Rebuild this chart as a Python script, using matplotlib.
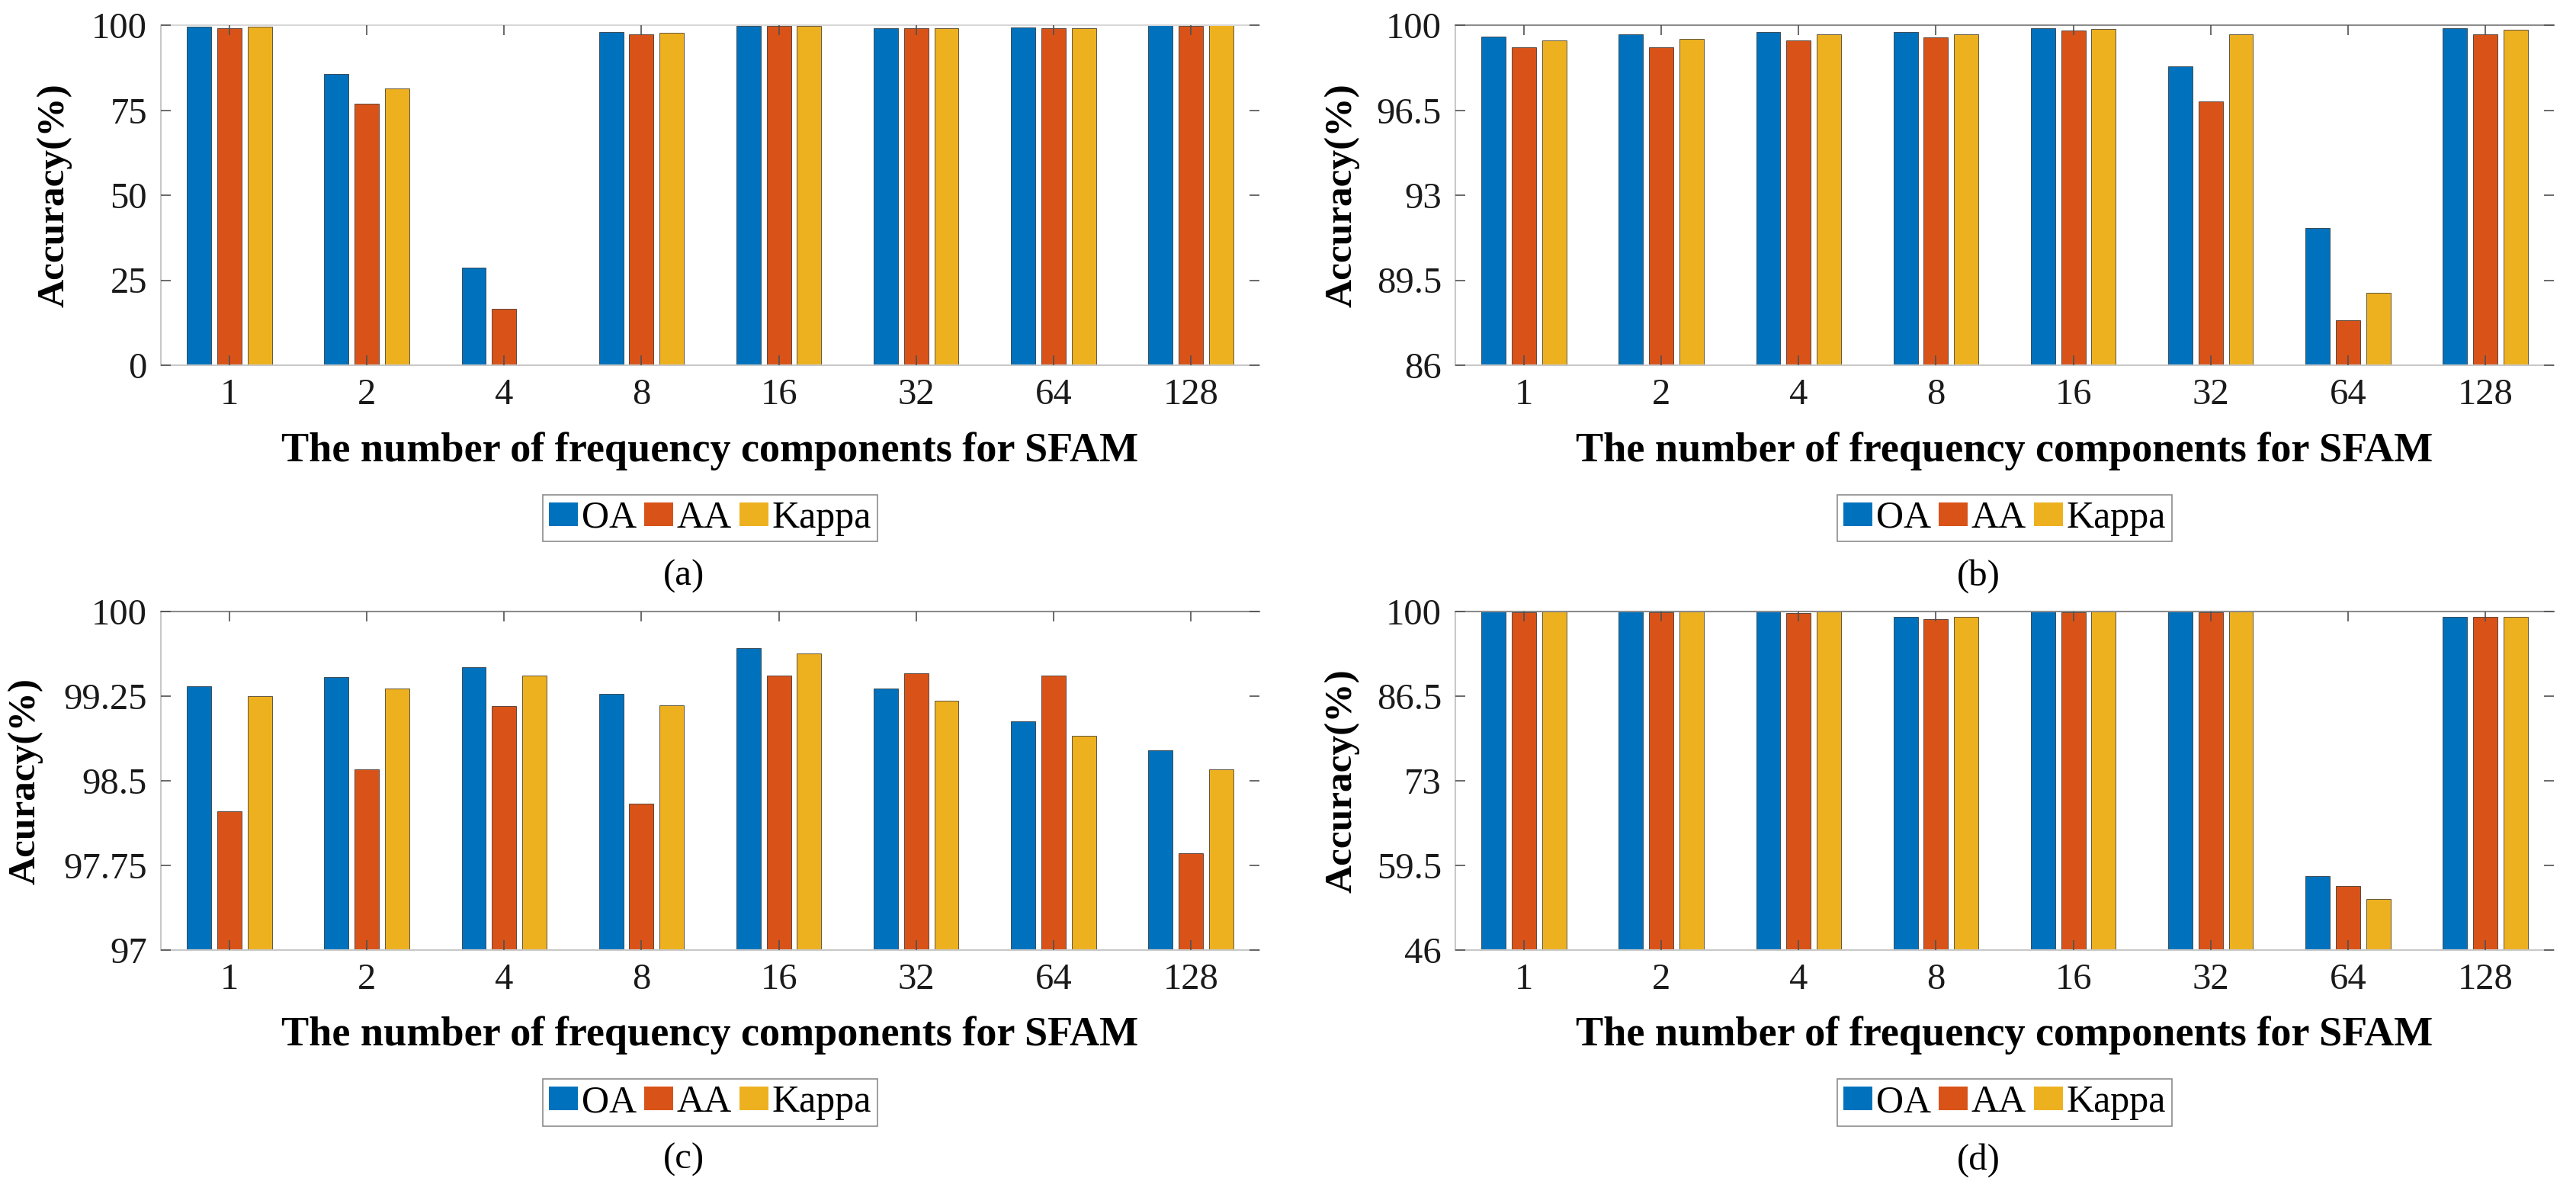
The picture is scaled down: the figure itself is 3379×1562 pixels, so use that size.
import numpy as np
import matplotlib
matplotlib.use('Agg')
import matplotlib.pyplot as plt

plt.rcParams['font.family'] = ['Liberation Serif', 'DejaVu Serif']

# data
groups = ['1', '2', '4', '8', '16', '32', '64', '128']
series = ['OA', 'AA', 'Kappa']
colors = ['#0072BD', '#D95319', '#EDB120']

oa_a = [99.6, 85.7, 28.8, 97.9, 99.8, 99.1, 99.3, 99.9]
aa_a = [99.2, 76.9, 16.6, 97.3, 99.7, 99.0, 99.2, 99.8]
kappa_a = [99.5, 81.4, 0.0, 97.8, 99.8, 99.0, 99.2, 99.9]

oa_b = [99.54, 99.62, 99.71, 99.71, 99.87, 98.32, 91.64, 99.87]
aa_b = [99.10, 99.10, 99.36, 99.51, 99.79, 96.86, 87.86, 99.62]
kappa_b = [99.38, 99.44, 99.62, 99.62, 99.85, 99.62, 88.99, 99.81]

oa_c = [99.34, 99.42, 99.51, 99.27, 99.675, 99.32, 99.03, 98.77]
aa_c = [98.23, 98.60, 99.16, 98.30, 99.43, 99.45, 99.43, 97.86]
kappa_c = [99.25, 99.32, 99.43, 99.17, 99.63, 99.21, 98.90, 98.60]

oa_d = [99.95, 99.95, 99.95, 99.2, 99.95, 99.95, 57.8, 99.2]
aa_d = [99.9, 99.9, 99.8, 98.8, 99.9, 99.9, 56.2, 99.2]
kappa_d = [99.95, 99.95, 99.95, 99.2, 99.95, 99.95, 54.1, 99.2]

ylims = [(0, 100), (86, 100), (97, 100), (46, 100)]
yticks = [[0, 25, 50, 75, 100],
          [86, 89.5, 93, 96.5, 100],
          [97, 97.75, 98.5, 99.25, 100],
          [46, 59.5, 73, 86.5, 100]]
ytick_labels = [['0', '25', '50', '75', '100'],
                ['86', '89.5', '93', '96.5', '100'],
                ['97', '97.75', '98.5', '99.25', '100'],
                ['46', '59.5', '73', '86.5', '100']]
ylabels = ['Accuracy(%)', 'Accuracy(%)', 'Acuracy(%)', 'Accuracy(%)']
letters = ['(a)', '(b)', '(c)', '(d)']
xlabel = 'The number of frequency components for SFAM'

panels = [[oa_a, aa_a, kappa_a],
          [oa_b, aa_b, kappa_b],
          [oa_c, aa_c, kappa_c],
          [oa_d, aa_d, kappa_d]]

W, H = 3379, 1562
fig = plt.figure(figsize=(W / 100, H / 100), dpi=100)

# axes boxes in pixels: left, top, width, height
boxes = [(211, 33, 1441, 446), (1909, 33, 1441, 446),
         (211, 802, 1441, 444), (1909, 802, 1441, 444)]
ylabel_x = [-0.081, -0.087, -0.107, -0.087]

x = np.arange(1, len(groups) + 1)
offs = [-0.221, 0.0, 0.221]
bw = 0.177

for k, (vals, box) in enumerate(zip(panels, boxes)):
    l, t, w, h = box
    ax = fig.add_axes([l / W, 1 - (t + h) / H, w / W, h / H])
    for s in range(3):
        ax.bar(x + offs[s], vals[s], width=bw, color=colors[s],
               edgecolor='#222222', linewidth=0.5, label=series[s])
    ax.set_xlim(0.5, 8.5)
    ax.set_ylim(*ylims[k])
    ax.set_xticks(x)
    ax.set_xticklabels(groups)
    ax.set_yticks(yticks[k])
    ax.set_yticklabels(ytick_labels[k])
    ax.set_axisbelow(False)
    ax.tick_params(axis='both', direction='in', length=9.5, width=1.2,
                   color='#505050', labelsize=35, labelcolor='#1a1a1a')
    ax.tick_params(axis='x', top=True, pad=12)
    ax.tick_params(axis='y', right=True, pad=13)

    for side in ['left', 'bottom']:
        ax.spines[side].set_color('#c8c8c8')
        ax.spines[side].set_linewidth(1.5)
    ax.spines['right'].set_visible(False)
    ax.spines['top'].set_color('#d8d8d8' if k == 0 else '#8c8c8c')
    ax.spines['top'].set_linewidth(1.5)

    ax.set_ylabel(ylabels[k], fontsize=37, fontweight='bold')
    ax.yaxis.set_label_coords(ylabel_x[k], 0.5)
    ax.set_xlabel(xlabel, fontsize=39, fontweight='bold')
    ax.xaxis.set_label_coords(0.5, -0.195)

    leg = ax.legend(loc='center', bbox_to_anchor=(0.5, -0.45), ncol=3,
                    fontsize=36, handlelength=0.76, handleheight=0.56,
                    handletextpad=0.1, columnspacing=0.2, borderpad=0.15,
                    borderaxespad=0, fancybox=False, framealpha=1)
    leg.get_frame().set_edgecolor('#8c8c8c')
    leg.get_frame().set_linewidth(1.2)
    for p in leg.get_patches():
        p.set_linewidth(0)

    ax.text(0.476, -0.62, letters[k], transform=ax.transAxes,
            ha='center', va='center', fontsize=35)

fig.savefig('out.png', dpi=100, facecolor='white')
